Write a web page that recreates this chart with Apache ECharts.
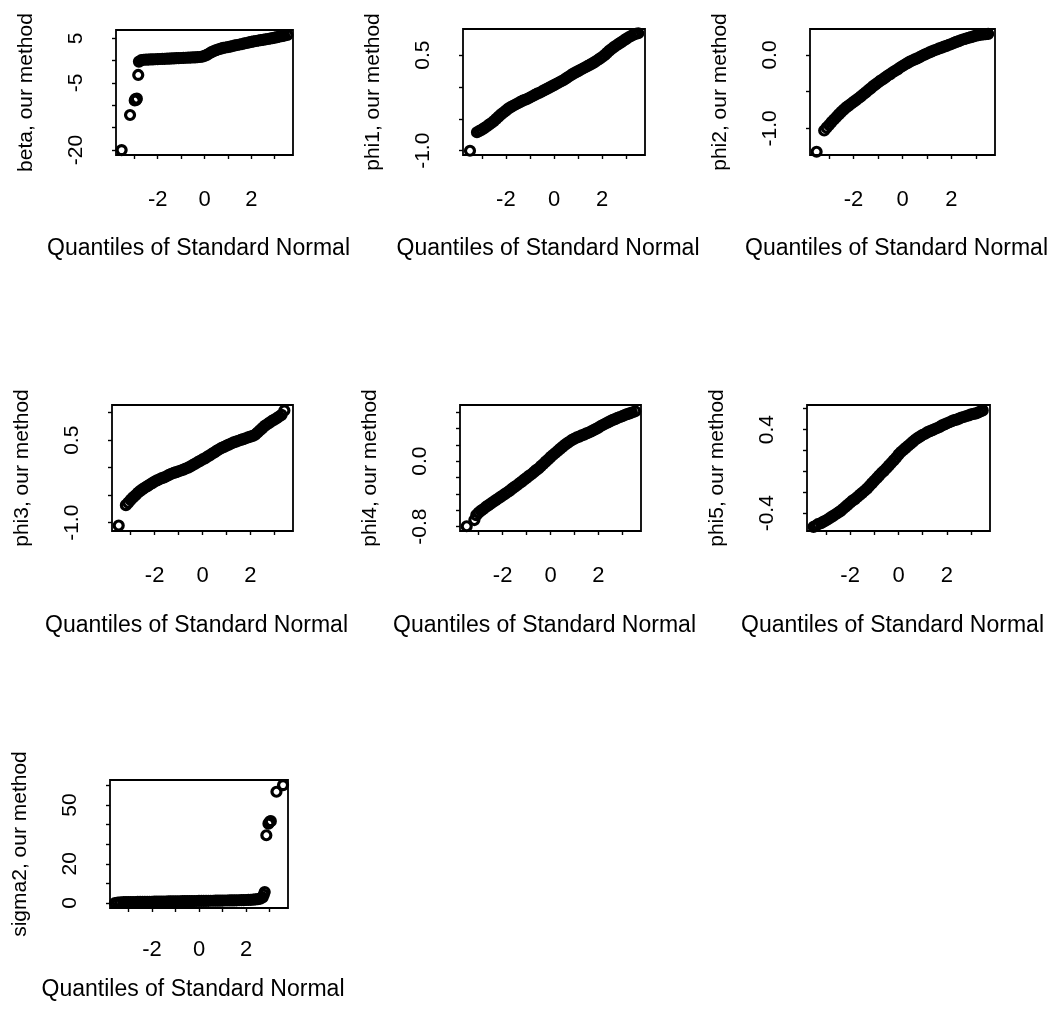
<!DOCTYPE html>
<html>
<head>
<meta charset="utf-8">
<script src="https://cdn.jsdelivr.net/npm/echarts@6/dist/echarts.min.js"></script>
<style>
html,body{margin:0;padding:0;background:#fff;}
#chart{width:1060px;height:1015px;}
</style>
</head>
<body>
<div id="chart"></div>
<script>
// ---------- data ----------
// shared normal-quantile positions of the dense band
const quantiles = [-3.2,-3.1,-3.0,-2.9,-2.8,-2.7,-2.6,-2.5,-2.4,-2.3,
  -2.2,-2.1,-2.0,-1.9,-1.8,-1.7,-1.6,-1.5,-1.4,-1.3,
  -1.2,-1.1,-1.0,-0.9,-0.8,-0.7,-0.6,-0.5,-0.4,-0.3,
  -0.2,-0.1,0.0,0.1,0.2,0.3,0.4,0.5,0.6,0.7,
  0.8,0.9,1.0,1.1,1.2,1.3,1.4,1.5,1.6,1.7,
  1.8,1.9,2.0,2.1,2.2,2.3,2.4,2.5,2.6,2.7,
  2.8,2.9,3.0,3.1,3.2,3.3,3.4];

const xTickValues = [-3,-2,-1,0,1,2,3];
const xLabelValues = [-2,0,2];

// beta
const betaBand = [null,null,null,null,-0.2,0.1,0.2,0.22,0.25,0.28,
  0.3,0.32,0.35,0.37,0.4,0.42,0.45,0.47,0.5,0.52,
  0.55,0.57,0.6,0.62,0.65,0.67,0.7,0.72,0.75,0.78,
  0.82,0.9,1.05,1.3,1.6,1.9,2.15,2.35,2.55,2.7,
  2.85,2.95,3.05,3.15,3.28,3.4,3.5,3.62,3.72,3.85,
  3.95,4.07,4.2,4.3,4.4,4.5,4.58,4.67,4.75,4.85,
  4.95,5.05,5.15,5.27,5.4,5.5,5.6];
const betaTailX = [-3.54,-3.18,-2.98,-2.95,-2.92,-2.89,-2.83,3.54];
const betaTailY = [-20.0,-12.15,-8.9,-8.6,-8.8,-8.5,-3.2,5.74];
const betaTicks = [-20,-15,-10,-5,0,5];
const betaLabels = [-20,-5,5];

// phi1
const phi1Band = [-0.71,-0.69,-0.67,-0.645,-0.62,-0.59,-0.565,-0.535,-0.5,-0.465,
  -0.43,-0.4,-0.37,-0.34,-0.315,-0.295,-0.275,-0.255,-0.235,-0.215,
  -0.2,-0.185,-0.165,-0.145,-0.125,-0.105,-0.09,-0.07,-0.05,-0.03,
  -0.01,0.01,0.03,0.05,0.07,0.09,0.11,0.135,0.16,0.185,
  0.21,0.23,0.25,0.27,0.29,0.31,0.33,0.35,0.37,0.395,
  0.42,0.445,0.47,0.5,0.535,0.57,0.6,0.63,0.655,0.68,
  0.705,0.73,0.755,0.78,0.8,0.82,0.835];
const phi1TailX = [-3.49,3.5];
const phi1TailY = [-1.0,0.843];
const phi1Ticks = [-1.0,-0.5,0.0,0.5];
const phi1Labels = [-1.0,0.5];

// phi2
const phi2Band = [-1.03,-0.99,-0.955,-0.915,-0.88,-0.845,-0.81,-0.775,-0.745,-0.715,
  -0.69,-0.665,-0.64,-0.615,-0.59,-0.565,-0.535,-0.51,-0.48,-0.455,
  -0.425,-0.4,-0.375,-0.35,-0.33,-0.305,-0.28,-0.26,-0.235,-0.215,
  -0.195,-0.17,-0.15,-0.13,-0.11,-0.09,-0.075,-0.06,-0.045,-0.03,
  -0.01,0.005,0.02,0.035,0.05,0.065,0.075,0.09,0.1,0.115,
  0.125,0.14,0.15,0.165,0.18,0.19,0.205,0.215,0.225,0.235,
  0.245,0.255,0.265,0.272,0.278,0.282,0.285];
const phi2TailX = [-3.51,3.5];
const phi2TailY = [-1.32,0.288];
const phi2Ticks = [-1.0,-0.5,0.0];
const phi2Labels = [-1.0,0.0];

// phi3
const phi3Band = [-0.68,-0.635,-0.585,-0.54,-0.5,-0.455,-0.42,-0.39,-0.36,-0.335,
  -0.305,-0.28,-0.25,-0.23,-0.21,-0.19,-0.175,-0.155,-0.13,-0.11,
  -0.095,-0.08,-0.065,-0.05,-0.035,-0.015,0.0,0.025,0.05,0.075,
  0.1,0.125,0.15,0.17,0.2,0.225,0.255,0.28,0.31,0.335,
  0.36,0.38,0.4,0.42,0.44,0.46,0.475,0.49,0.505,0.52,
  0.535,0.55,0.565,0.58,0.6,0.64,0.68,0.72,0.76,0.79,
  0.82,0.85,0.875,0.9,0.93,0.96,null];
const phi3TailX = [-3.5,3.42];
const phi3TailY = [-1.05,1.04];
const phi3Ticks = [-1.0,-0.5,0.0,0.5,1.0];
const phi3Labels = [-1.0,0.5];

// phi4
const phi4Band = [null,-0.66,-0.63,-0.605,-0.585,-0.56,-0.54,-0.52,-0.5,-0.48,
  -0.46,-0.44,-0.42,-0.4,-0.38,-0.36,-0.335,-0.315,-0.295,-0.27,
  -0.25,-0.225,-0.205,-0.18,-0.16,-0.135,-0.11,-0.09,-0.06,-0.035,
  -0.005,0.02,0.05,0.075,0.1,0.125,0.15,0.175,0.2,0.22,
  0.24,0.26,0.275,0.29,0.3,0.315,0.325,0.34,0.35,0.365,
  0.38,0.395,0.41,0.43,0.445,0.46,0.475,0.49,0.505,0.515,
  0.53,0.54,0.55,0.565,0.575,0.585,0.595];
const phi4TailX = [-3.5,-3.18,3.54];
const phi4TailY = [-0.796,-0.72,0.61];
const phi4Ticks = [-0.8,-0.6,-0.4,-0.2,0.0,0.2,0.4,0.6];
const phi4Labels = [-0.8,0.0];

// phi5
const phi5Band = [-0.495,-0.48,-0.47,-0.455,-0.44,-0.425,-0.41,-0.395,-0.38,-0.36,
  -0.34,-0.32,-0.3,-0.28,-0.265,-0.245,-0.225,-0.205,-0.185,-0.165,
  -0.14,-0.115,-0.09,-0.065,-0.04,-0.015,0.005,0.03,0.055,0.08,
  0.105,0.13,0.16,0.185,0.205,0.225,0.245,0.265,0.285,0.305,
  0.32,0.335,0.35,0.36,0.375,0.385,0.395,0.405,0.415,0.425,
  0.44,0.45,0.46,0.47,0.48,0.49,0.495,0.505,0.515,0.52,
  0.53,0.535,0.545,0.55,0.555,0.565,0.575];
const phi5TailX = [-3.51,-3.42,-3.33,3.48];
const phi5TailY = [-0.53,-0.52,-0.505,0.583];
const phi5Ticks = [-0.4,-0.2,0.0,0.2,0.4,0.6];
const phi5Labels = [-0.4,0.4];

// sigma2
const sigma2Band = [0.4,0.42,0.43,0.46,0.48,0.49,0.52,0.53,0.55,0.58,
  0.6,0.61,0.63,0.66,0.67,0.7,0.72,0.73,0.76,0.78,
  0.79,0.82,0.84,0.85,0.88,0.9,0.91,0.94,0.96,0.97,
  1.0,1.02,1.03,1.06,1.08,1.09,1.12,1.14,1.15,1.18,
  1.2,1.21,1.24,1.26,1.28,1.3,1.32,1.35,1.38,1.41,
  1.44,1.48,1.52,1.57,1.63,1.7,1.8,1.95,2.2,2.8,
  null,null,null,null,null,null,null];
const sigma2TailX = [-3.57,-3.45,-3.33,2.75,2.79,2.86,2.95,3.0,3.05,3.29,3.57];
const sigma2TailY = [0.0,0.2,0.3,4.2,5.6,34.6,40.5,41.5,41.8,56.8,60.2];
const sigma2Ticks = [0,10,20,30,40,50,60];
const sigma2Labels = [0,20,50];

// ---------- layout / styling ----------
const FONT = '"Liberation Sans", Arial, Helvetica, sans-serif';
const fmtInt = v => String(Math.round(v));
const fmt1 = v => (Math.abs(v) < 1e-9 ? 0 : v).toFixed(1);

function points(band, tailX, tailY) {
  const out = [];
  quantiles.forEach((q, i) => { if (band[i] !== null) out.push([q, band[i]]); });
  tailX.forEach((x, i) => out.push([x, tailY[i]]));
  out.sort((a, b) => a[0] - b[0]);
  return out;
}

const panels = [
  {name:'beta, our method',   band:betaBand,   tx:betaTailX,   ty:betaTailY,   yMin:-21.1,  yMax:6.86,  ticks:betaTicks,   labels:betaLabels,   fmt:fmtInt, box:[116,30,177,125], xGap:82, lm:34},
  {name:'phi1, our method',   band:phi1Band,   tx:phi1TailX,   ty:phi1TailY,   yMin:-1.067, yMax:0.91,  ticks:phi1Ticks,   labels:phi1Labels,   fmt:fmt1,   box:[463,29,182,126], xGap:82, lm:34},
  {name:'phi2, our method',   band:phi2Band,   tx:phi2TailX,   ty:phi2TailY,   yMin:-1.364, yMax:0.355, ticks:phi2Ticks,   labels:phi2Labels,   fmt:fmt1,   box:[810,29,185,126], xGap:82, lm:34},
  {name:'phi3, our method',   band:phi3Band,   tx:phi3TailX,   ty:phi3TailY,   yMin:-1.15,  yMax:1.14,  ticks:phi3Ticks,   labels:phi3Labels,   fmt:fmt1,   box:[112,405,181,126], xGap:83, lm:34},
  {name:'phi4, our method',   band:phi4Band,   tx:phi4TailX,   ty:phi4TailY,   yMin:-0.854, yMax:0.687, ticks:phi4Ticks,   labels:phi4Labels,   fmt:fmt1,   box:[460,405,181,126], xGap:83, lm:34},
  {name:'phi5, our method',   band:phi5Band,   tx:phi5TailX,   ty:phi5TailY,   yMin:-0.57,  yMax:0.635, ticks:phi5Ticks,   labels:phi5Labels,   fmt:fmt1,   box:[807,405,183,126], xGap:83, lm:34},
  {name:'sigma2, our method', band:sigma2Band, tx:sigma2TailX, ty:sigma2TailY, yMin:-2.56,  yMax:62.8,  ticks:sigma2Ticks, labels:sigma2Labels, fmt:fmtInt, box:[110,780,178,128], xGap:70, lm:31}
];

const option = {
  animation: false,
  backgroundColor: '#fff',
  grid: panels.map(p => ({
    left: p.box[0], top: p.box[1], width: p.box[2], height: p.box[3],
    show: true, borderColor: '#000', borderWidth: 1.8, backgroundColor: 'transparent',
    containLabel: false, outerBoundsMode: 'none'
  })),
  xAxis: panels.map((p, i) => ({
    gridIndex: i, type: 'value', min: -3.78, max: 3.78,
    axisLine: {show: false, onZero: false},
    splitLine: {show: false},
    axisTick: {show: true, length: 4, lineStyle: {color: '#000', width: 1.4}, customValues: xTickValues},
    axisLabel: {color: '#000', fontSize: 22, fontFamily: FONT, margin: p.lm, customValues: xLabelValues,
      formatter: v => String(v)},
    name: 'Quantiles of Standard Normal', nameLocation: 'middle', nameGap: p.xGap,
    nameTextStyle: {color: '#000', fontSize: 23, fontFamily: FONT, padding: [0, 12, 0, 0]}
  })),
  yAxis: panels.map((p, i) => ({
    gridIndex: i, type: 'value', min: p.yMin, max: p.yMax,
    axisLine: {show: false, onZero: false},
    splitLine: {show: false},
    axisTick: {show: true, length: 4, lineStyle: {color: '#000', width: 1.4}, customValues: p.ticks},
    axisLabel: {color: '#000', fontSize: 21, fontFamily: FONT, margin: 29, rotate: 90,
      customValues: p.labels, formatter: p.fmt},
    name: p.name, nameLocation: 'middle', nameGap: 79,
    nameTextStyle: {color: '#000', fontSize: 21, fontFamily: FONT}
  })),
  series: panels.map((p, i) => ({
    type: 'scatter', xAxisIndex: i, yAxisIndex: i,
    data: points(p.band, p.tx, p.ty),
    symbol: 'circle', symbolSize: 9,
    itemStyle: {color: 'transparent', borderColor: '#000', borderWidth: 3.2, opacity: 1},
    clip: false, silent: true, large: false
  }))
};

const chart = echarts.init(document.getElementById('chart'), null, {renderer: 'canvas'});
chart.setOption(option);
</script>
</body>
</html>
